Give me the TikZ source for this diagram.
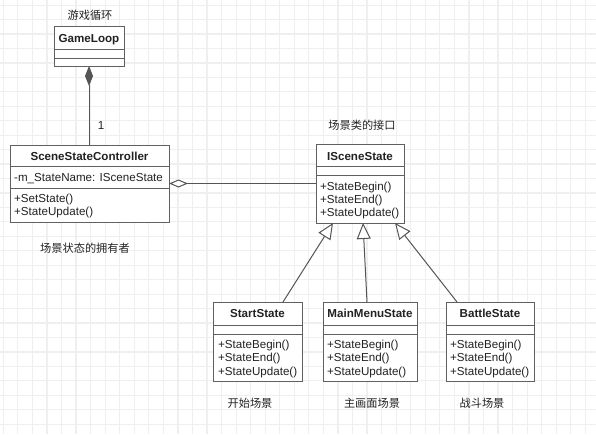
\documentclass[tikz,border=0pt]{standalone}
\usepackage{fontspec}
\setmainfont{Liberation Sans}
\newfontfamily\cjk{Noto Sans CJK SC}
\usetikzlibrary{arrows.meta,shadows}
\definecolor{boxcol}{HTML}{606060}
\definecolor{lcol}{HTML}{555555}
\definecolor{txtcol}{HTML}{222222}
\definecolor{gridcol}{HTML}{EFEFEF}
\newcommand\umlbox[7]{%
  \node[classbox, minimum width=#4pt, minimum height=#5pt] (#1) at (#2,#3) {};
  \draw[divider] ([yshift=-#6pt]#1.north west) -- ([yshift=-#6pt]#1.north east);
  \draw[divider] ([yshift=-#7pt]#1.north west) -- ([yshift=-#7pt]#1.north east);
}
\begin{document}
\begin{tikzpicture}[x=1pt,y=-1pt,
  classbox/.style={draw=boxcol, line width=1pt, fill=white, anchor=north west, inner sep=0pt, outer sep=0pt,
    drop shadow={shadow xshift=1.2pt, shadow yshift=-1.2pt, opacity=0.25, fill=black}},
  divider/.style={draw=boxcol, line width=1pt},
  gridline/.style={draw=gridcol, line width=1.2pt},
  ctitle/.style={inner sep=0pt, anchor=base, text=txtcol, font=\fontsize{11.6}{13}\selectfont\bfseries},
  member/.style={inner sep=0pt, anchor=base west, text=txtcol, font=\fontsize{11.6}{13}\selectfont},
  note/.style={inner sep=0pt, anchor=center, text=txtcol, font=\cjk\fontsize{11.2}{13}\selectfont},
  conn/.style={draw=lcol, line width=1pt},
  comp/.style={conn, -{Diamond[fill=lcol, length=20pt, width=8pt]}},
  agg/.style={conn, -{Diamond[open, fill=white, length=19pt, width=8pt]}},
  inh/.style={conn, -{Triangle[open, fill=white, length=16pt, width=14pt]}}
]
\useasboundingbox (0,0) rectangle (596,434);
\fill[white] (0,0) rectangle (596,434);
% background grid
\foreach \i in {0,...,40} \draw[gridline] ({3.3+\i*14.55},0) -- ({3.3+\i*14.55},434);
\foreach \j in {0,...,29} \draw[gridline] (0,{5.1+\j*14.45}) -- (596,{5.1+\j*14.45});

% class boxes
\umlbox{gl}{54}{26}{70}{40}{23}{32}
\umlbox{ssc}{10}{145}{159}{77}{21.5}{43.5}
\umlbox{iss}{316}{144}{88}{79}{22.5}{31}
\umlbox{ss}{213}{302}{89}{79}{23}{32}
\umlbox{mm}{323}{302}{94}{79}{23}{32}
\umlbox{bs}{446}{302}{88}{79}{23}{32}

% GameLoop
\node[note] (gl-n) at (90,15) {游戏循环};
\node[ctitle] (gl-t) at (89,42) {GameLoop};

% SceneStateController
\node[ctitle] (ssc-t) at (89.5,160) {SceneStateController};
\node[member] (ssc-a) at (14,181) {-m\_StateName: ISceneState};
\node[member] (ssc-m1) at (14,202) {+SetState()};
\node[member] (ssc-m2) at (14,215) {+StateUpdate()};
\node[note] (ssc-n) at (85,248) {场景状态的拥有者};

% ISceneState
\node[note] (iss-n) at (362,125) {场景类的接口};
\node[ctitle] (iss-t) at (360,160) {ISceneState};
\node[member] (iss-m1) at (320,190) {+StateBegin()};
\node[member] (iss-m2) at (320,203) {+StateEnd()};
\node[member] (iss-m3) at (320,216) {+StateUpdate()};

% StartState
\node[ctitle] (ss-t) at (257.5,317) {StartState};
\node[member] (ss-m1) at (218,348) {+StateBegin()};
\node[member] (ss-m2) at (218,361) {+StateEnd()};
\node[member] (ss-m3) at (218,375) {+StateUpdate()};
\node[note] (ss-n) at (250,403) {开始场景};

% MainMenuState
\node[ctitle] (mm-t) at (370,317) {MainMenuState};
\node[member] (mm-m1) at (327,348) {+StateBegin()};
\node[member] (mm-m2) at (327,361) {+StateEnd()};
\node[member] (mm-m3) at (327,375) {+StateUpdate()};
\node[note] (mm-n) at (372,403) {主画面场景};

% BattleState
\node[ctitle] (bs-t) at (490,317) {BattleState};
\node[member] (bs-m1) at (450,348) {+StateBegin()};
\node[member] (bs-m2) at (450,361) {+StateEnd()};
\node[member] (bs-m3) at (450,375) {+StateUpdate()};
\node[note] (bs-n) at (482,403) {战斗场景};

% connectors
\draw[comp] (gl.south |- ssc.north) -- (gl.south);
\node[member, anchor=base] (mult) at (101,129) {1};
\draw[agg] (iss.west) -- (ssc.east |- iss.west);
\draw[inh] ([xshift=25.5pt]ss.north) -- ([xshift=-27pt]iss.south);
\draw[inh] ([xshift=-3pt]mm.north) -- ([xshift=3pt]iss.south);
\draw[inh] ([xshift=-33pt]bs.north) -- ([xshift=35pt]iss.south);
\end{tikzpicture}
\end{document}
